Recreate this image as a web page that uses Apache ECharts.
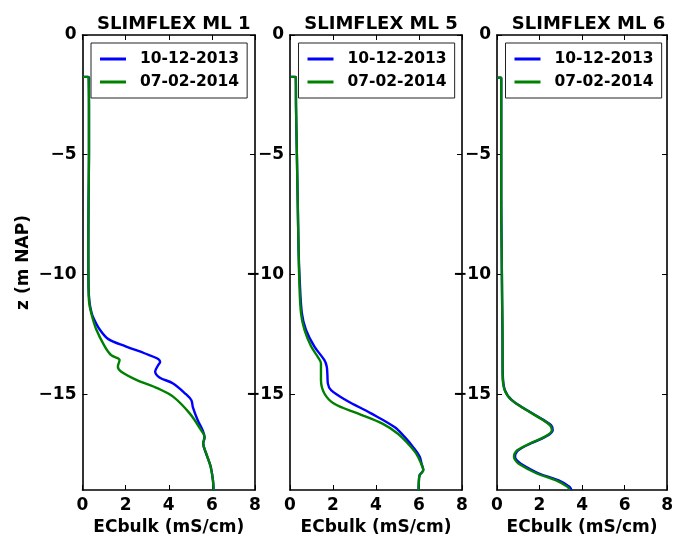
<!DOCTYPE html>
<html><head><meta charset="utf-8">
<script src="https://cdn.jsdelivr.net/npm/echarts@6/dist/echarts.min.js"></script>
<style>html,body{margin:0;padding:0;background:#fff}#c{width:676px;height:542px}</style>
</head><body><div id="c"></div>
<script>
const panelTitles = ['SLIMFLEX ML 1', 'SLIMFLEX ML 5', 'SLIMFLEX ML 6'];
const seriesNames = ['10-12-2013', '07-02-2014'];
const xTicks = [0, 2, 4, 6, 8];
const yTicks = [0, -5, -10, -15];
const xName = 'ECbulk (mS/cm)';
const yName = 'z (m NAP)';

// SLIMFLEX ML 1
const ml1_z_a  = [-1.75, -1.75, -1.8, -3, -5, -7, -9, -10.5, -11.2, -11.6, -11.8, -12.3, -12.7, -13.0, -13.3, -13.5, -13.65, -13.8, -14.05, -14.3, -14.55, -15.0, -15.25, -15.55, -16.1, -16.5, -16.8, -17.06, -17.5, -18.0, -18.6, -19.0];
const ml1_ec_a = [0.02, 0.26, 0.3, 0.3, 0.3, 0.28, 0.27, 0.28, 0.33, 0.42, 0.5, 0.8, 1.2, 2.0, 2.9, 3.45, 3.6, 3.5, 3.37, 3.57, 4.2, 4.8, 5.05, 5.12, 5.35, 5.57, 5.66, 5.6, 5.74, 5.94, 6.05, 6.08];
const ml1_z_b  = [-1.75, -1.75, -1.8, -3, -5, -7, -9, -10.5, -11.1, -11.6, -12.3, -13.0, -13.37, -13.57, -13.85, -14.06, -14.4, -14.76, -15.1, -15.8, -16.5, -16.78, -17.06, -17.47, -18.03, -18.6, -19.0];
const ml1_ec_b = [0.02, 0.26, 0.28, 0.3, 0.3, 0.28, 0.27, 0.28, 0.3, 0.4, 0.64, 1.03, 1.33, 1.72, 1.64, 1.8, 2.5, 3.5, 4.2, 4.97, 5.5, 5.66, 5.6, 5.74, 5.94, 6.05, 6.08];

// SLIMFLEX ML 5
const ml5_z_a  = [-1.75, -1.75, -1.78, -3, -5, -7, -9, -10.2, -11.6, -12.3, -13.0, -13.58, -13.85, -14.2, -14.55, -14.83, -15.25, -15.8, -16.37, -16.78, -17.2, -17.6, -17.9, -18.17, -18.38, -18.7, -19.0];
const ml5_ec_a = [0.02, 0.25, 0.27, 0.28, 0.32, 0.36, 0.4, 0.45, 0.55, 0.74, 1.13, 1.6, 1.71, 1.74, 1.76, 1.91, 2.61, 3.77, 4.86, 5.33, 5.72, 6.03, 6.12, 6.2, 6.03, 5.99, 5.98];
const ml5_z_b  = [-1.75, -1.75, -1.78, -3, -5, -7, -9, -10.2, -11.6, -12.3, -13.0, -13.44, -13.72, -14.41, -14.97, -15.4, -15.8, -16.23, -16.65, -17.06, -17.48, -17.9, -18.17, -18.38, -18.7, -19.0];
const ml5_ec_b = [0.02, 0.25, 0.27, 0.28, 0.32, 0.36, 0.4, 0.43, 0.51, 0.67, 0.98, 1.29, 1.44, 1.44, 1.6, 2.06, 3.15, 4.3, 5.02, 5.48, 5.87, 6.1, 6.2, 6.03, 5.99, 5.98];

// SLIMFLEX ML 6
const ml6_z_a  = [-1.78, -1.78, -1.8, -3, -5, -7, -9, -11, -12.74, -14.13, -14.83, -15.25, -15.66, -16.08, -16.3, -16.5, -16.78, -17.06, -17.34, -17.5, -17.62, -17.75, -17.9, -18.3, -18.6, -18.87, -19.0];
const ml6_ec_a = [0.0, 0.2, 0.2, 0.2, 0.2, 0.2, 0.22, 0.24, 0.26, 0.27, 0.37, 0.7, 1.4, 2.2, 2.55, 2.62, 2.28, 1.58, 1.0, 0.87, 0.85, 0.92, 1.12, 1.95, 2.9, 3.42, 3.5];
const ml6_z_b  = [-1.78, -1.78, -1.8, -3, -5, -7, -9, -11, -12.74, -14.13, -14.83, -15.25, -15.66, -16.08, -16.3, -16.5, -16.78, -17.06, -17.34, -17.5, -17.62, -17.75, -17.9, -18.3, -18.6, -18.87, -19.0];
const ml6_ec_b = [0.0, 0.2, 0.2, 0.2, 0.2, 0.2, 0.22, 0.24, 0.26, 0.26, 0.36, 0.69, 1.38, 2.16, 2.5, 2.58, 2.24, 1.54, 0.95, 0.82, 0.8, 0.86, 1.02, 1.85, 2.78, 3.32, 3.42];

const panels = [
  { a: [ml1_ec_a, ml1_z_a], b: [ml1_ec_b, ml1_z_b] },
  { a: [ml5_ec_a, ml5_z_a], b: [ml5_ec_b, ml5_z_b] },
  { a: [ml6_ec_a, ml6_z_a], b: [ml6_ec_b, ml6_z_b] }
];
const colors = ['#0000ff', '#008000'];

const FONT = 'DejaVu Sans';
const gridPos = [
  { left: 82.5, width: 172.5 },
  { left: 290, width: 172 },
  { left: 497, width: 173 }
];
const TOP = 35, HEIGHT = 455;
const fmtY = v => (v < 0 ? '\u2212' + Math.abs(v) : String(v));

const grid = [], xAxis = [], yAxis = [], series = [], title = [], legend = [];
const axisLine = { show: true, onZero: false, lineStyle: { color: '#000', width: 1.6 } };
const axisTick = { show: true, inside: true, length: 5, lineStyle: { color: '#000', width: 1 } };
const labelStyle = { fontFamily: FONT, fontWeight: 'bold', fontSize: 17, color: '#000' };

gridPos.forEach((g, i) => {
  grid.push({ left: g.left, top: TOP, width: g.width, height: HEIGHT, containLabel: false });
  xAxis.push({ type: 'value', gridIndex: i, position: 'bottom', min: 0, max: 8, interval: 2,
    axisLine, axisTick, splitLine: { show: false },
    axisLabel: Object.assign({ margin: 7 }, labelStyle),
    name: xName, nameLocation: 'middle', nameGap: 29,
    nameTextStyle: Object.assign({}, labelStyle) });
  xAxis.push({ type: 'value', gridIndex: i, position: 'top', min: 0, max: 8, interval: 2,
    axisLine, axisTick, splitLine: { show: false }, axisLabel: { show: false } });
  yAxis.push({ type: 'value', gridIndex: i, position: 'left', min: -19, max: 0,
    axisLine, axisTick: Object.assign({ customValues: yTicks }, axisTick), splitLine: { show: false },
    axisLabel: Object.assign({ margin: 6, customValues: yTicks, formatter: fmtY }, labelStyle),
    name: i === 0 ? yName : '', nameLocation: 'middle', nameRotate: 90, nameGap: 50,
    nameTextStyle: Object.assign({}, labelStyle) });
  yAxis.push({ type: 'value', gridIndex: i, position: 'right', min: -19, max: 0,
    axisLine, axisTick: Object.assign({ customValues: yTicks }, axisTick), splitLine: { show: false },
    axisLabel: { show: false } });

  title.push({ text: panelTitles[i], left: g.left + g.width / 2, textAlign: 'center', top: 10,
    textStyle: { fontFamily: FONT, fontWeight: 'bold', fontSize: 18, color: '#000' } });

  legend.push({ data: seriesNames, orient: 'vertical', left: g.left + 8.5, top: 43,
    borderColor: '#222', borderWidth: 1, backgroundColor: '#fff', borderRadius: 0,
    padding: [8, 8, 8, 9], itemGap: 7, itemWidth: 26, itemHeight: 3, icon: 'rect',
    selectedMode: false,
    textStyle: { fontFamily: FONT, fontWeight: 'bold', fontSize: 15.5, color: '#000', padding: [0, 0, 0, 9] } });

  const p = panels[i];
  ['a', 'b'].forEach((k, j) => {
    const ec = p[k][0], z = p[k][1];
    series.push({ type: 'line', name: seriesNames[j], xAxisIndex: 2 * i, yAxisIndex: 2 * i,
      data: ec.map((v, n) => [v, z[n]]), showSymbol: false, symbol: 'none',
      smooth: 0.35, lineStyle: { color: colors[j], width: 2.4 }, itemStyle: { color: colors[j] },
      animation: false, z: 2 + j });
  });
});

const chart = echarts.init(document.getElementById('c'), null, { renderer: 'canvas' });
chart.setOption({ backgroundColor: '#fff', animation: false, title, legend, grid, xAxis, yAxis, series });
</script>
</body></html>
